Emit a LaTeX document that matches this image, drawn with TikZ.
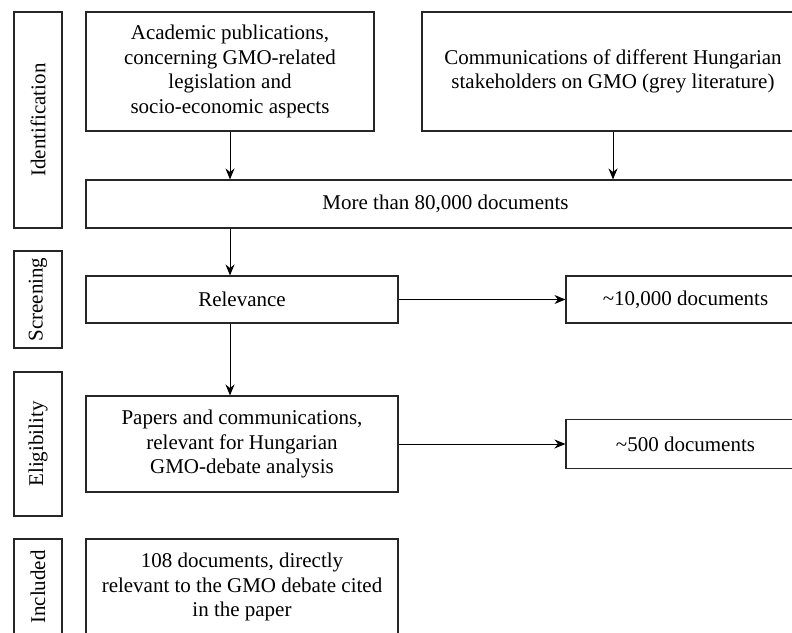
\documentclass[tikz,border=0pt]{standalone}
\usepackage{fontspec}
\setmainfont{Liberation Serif}
\usetikzlibrary{arrows.meta}
\newcommand\figfont{\fontsize{21}{24.5}\selectfont}

\begin{document}
\begin{tikzpicture}[x=1pt,y=-1pt,>={Stealth[length=11pt,width=9pt]},
  box/.style={draw=black!85,line width=1.1pt,align=center,inner sep=0pt,font=\figfont},
  stage/.style={box,rotate=90,minimum height=48}]
\useasboundingbox (0,0) rectangle (792,632);
\clip (0,0) rectangle (792,632);
% stages on the left
\node[stage,minimum width=216] (ident) at (38,120) {Identification};
\node[stage,minimum width=97] (screen) at (38,299.5) {Screening};
\node[stage,minimum width=144] (elig) at (38,444) {Eligibility};
\node[stage,minimum width=96] (incl) at (38,587) {Included};
% flow boxes
\node[box,minimum width=288,minimum height=119] (acad) at (230,71.5) {Academic publications,\\concerning GMO-related\\legislation and\\socio-economic aspects};
\node[box,minimum width=382,minimum height=119] (comm) at (613,71.5) {Communications of different Hungarian\\stakeholders on GMO (grey literature)};
\node[box,minimum width=719,minimum height=48] (more) at (445.5,204) {More than 80,000 documents};
\node[box,minimum width=312,minimum height=47] (rel) at (242,299.5) {Relevance};
\node[box,minimum width=239,minimum height=47] (ten) at (685.5,299.5) {\textasciitilde10,000 documents};
\node[box,minimum width=312,minimum height=96] (pap) at (242,444) {Papers and communications,\\relevant for Hungarian\\GMO-debate analysis};
\node[box,minimum width=239,minimum height=49] (five) at (685.5,444) {\textasciitilde500 documents};
\node[box,minimum width=312,minimum height=96] (docs) at (242,587) {108 documents, directly\\relevant to the GMO debate cited\\in the paper};
% connectors
\draw[->,line width=1pt] (acad.south) -- (more.north -| acad);
\draw[->,line width=1pt] (comm.south) -- (more.north -| comm);
\draw[->,line width=1pt] (more.south -| acad) -- (rel.north -| acad);
\draw[->,line width=1pt] (rel.south -| acad) -- (pap.north -| acad);
\draw[->,line width=1pt] (rel.east) -- (ten.west);
\draw[->,line width=1pt] (pap.east) -- (five.west);
\end{tikzpicture}
\end{document}
